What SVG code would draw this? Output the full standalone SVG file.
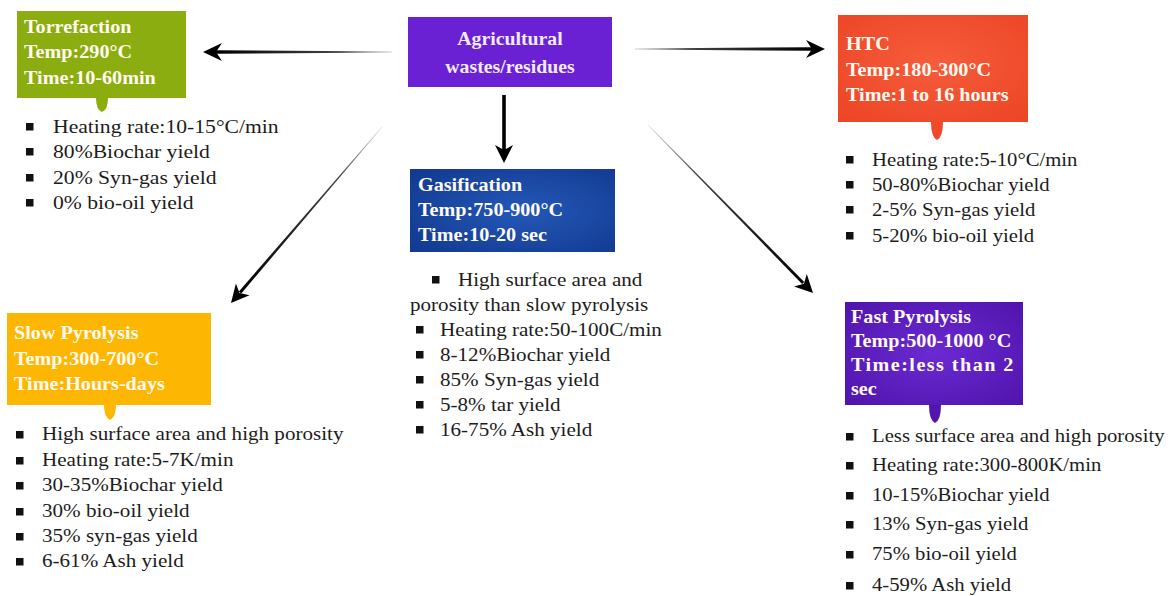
<svg xmlns="http://www.w3.org/2000/svg" width="1168" height="596" viewBox="0 0 1168 596">
<defs>
<style>
.hd{font-family:"Liberation Serif","DejaVu Serif",serif;font-weight:bold;font-size:18px;fill:#fffaf0}
.bl{font-family:"Liberation Serif","DejaVu Serif",serif;font-size:19px;fill:#1c1c1c}
.sq{fill:#111}
.ah{fill:#000}
</style>
<linearGradient id="gL" gradientUnits="userSpaceOnUse" x1="392" y1="52" x2="216" y2="52"><stop offset="0" stop-color="#d0d0d0"/><stop offset="0.3" stop-color="#444"/><stop offset="1" stop-color="#000"/></linearGradient>
<linearGradient id="gR" gradientUnits="userSpaceOnUse" x1="635" y1="49" x2="812" y2="49"><stop offset="0" stop-color="#d0d0d0"/><stop offset="0.3" stop-color="#444"/><stop offset="1" stop-color="#000"/></linearGradient>
<linearGradient id="gDL" gradientUnits="userSpaceOnUse" x1="382" y1="127" x2="240" y2="292"><stop offset="0" stop-color="#e0e0e0"/><stop offset="0.3" stop-color="#444"/><stop offset="1" stop-color="#000"/></linearGradient>
<linearGradient id="gDR" gradientUnits="userSpaceOnUse" x1="648" y1="125" x2="803" y2="283"><stop offset="0" stop-color="#e0e0e0"/><stop offset="0.3" stop-color="#444"/><stop offset="1" stop-color="#000"/></linearGradient>
<radialGradient id="gBlue" cx="0.55" cy="0.5" r="0.7"><stop offset="0" stop-color="#2458b8"/><stop offset="1" stop-color="#123a90"/></radialGradient>
<radialGradient id="gRed" cx="0.5" cy="0.45" r="0.7"><stop offset="0" stop-color="#f65c3b"/><stop offset="1" stop-color="#ec4626"/></radialGradient>
<radialGradient id="gPur" cx="0.5" cy="0.5" r="0.7"><stop offset="0" stop-color="#6a2ad2"/><stop offset="1" stop-color="#5014ac"/></radialGradient>
</defs>
<rect width="1168" height="596" fill="#ffffff"/>

<g id="connectors">
<polygon points="392,51.6 392,52.4 216,53.8 216,50.2" fill="url(#gL)"/>
<polygon class="ah" points="203,52 222,43 216,52 222,61"/>
<polygon points="635,48.6 635,49.4 812,50.8 812,47.2" fill="url(#gR)"/>
<polygon class="ah" points="825,49 806,40 812,49 806,58"/>
<rect x="502.2" y="95" width="3.6" height="56" fill="#000"/>
<polygon class="ah" points="504,163 495,145 504,150 513,145"/>
<polygon points="382.2,127.2 381.8,126.8 238.9,291.4 241.3,293.4" fill="url(#gDL)"/>
<polygon class="ah" points="231,303 235.9,283.4 239.5,293.1 249.5,295.2"/>
<polygon points="647.8,125.2 648.2,124.8 804.3,281.9 802.1,284.1" fill="url(#gDR)"/>
<polygon class="ah" points="813,293 806.8,273.9 803.9,283.7 794,286.5"/>
</g>

<g id="agri">
<rect x="408" y="17" width="204" height="70" fill="#6a21d4"/>
<g transform="translate(510,0) scale(1.1,1)"><text class="hd" x="0" y="45" text-anchor="middle" style="fill:#f1eaff">Agricultural</text><text class="hd" x="0" y="73" text-anchor="middle" style="fill:#f1eaff">wastes/residues</text></g>
</g>

<g id="torrefaction">
<rect x="17" y="11" width="169" height="87" fill="#8cad0f"/>
<path d="M96,98 L108,98 Q108,110 102,112 Q96,110 96,98 Z" fill="#8cad0f"/>
<g transform="translate(24,0) scale(1.12,1)"><text class="hd" x="0" y="33">Torrefaction</text><text class="hd" x="0" y="58">Temp:290°C</text><text class="hd" x="0" y="84">Time:10-60min</text></g>
<rect class="sq" x="26" y="123" width="7.5" height="7.5"/><rect class="sq" x="26" y="148" width="7.5" height="7.5"/><rect class="sq" x="26" y="174" width="7.5" height="7.5"/><rect class="sq" x="26" y="199" width="7.5" height="7.5"/>
<g transform="translate(53,0) scale(1.14,1)"><text class="bl" x="0" y="133">Heating rate:10-15°C/min</text><text class="bl" x="0" y="158">80%Biochar yield</text><text class="bl" x="0" y="184">20% Syn-gas yield</text><text class="bl" x="0" y="209">0% bio-oil yield</text></g>
</g>

<g id="htc">
<rect x="838" y="15" width="190" height="107" fill="url(#gRed)"/>
<path d="M931,122 L943,122 Q943,137 937,140 Q931,137 931,122 Z" fill="#ee4a2a"/>
<g transform="translate(846,0) scale(1.12,1)"><text class="hd" x="0" y="50">HTC</text><text class="hd" x="0" y="76">Temp:180-300°C</text><text class="hd" x="0" y="101">Time:1 to 16 hours</text></g>
<rect class="sq" x="846" y="156" width="7.5" height="7.5"/><rect class="sq" x="846" y="181" width="7.5" height="7.5"/><rect class="sq" x="846" y="206" width="7.5" height="7.5"/><rect class="sq" x="846" y="232" width="7.5" height="7.5"/>
<g transform="translate(872,0) scale(1.09,1)"><text class="bl" x="0" y="166">Heating rate:5-10°C/min</text><text class="bl" x="0" y="191">50-80%Biochar yield</text><text class="bl" x="0" y="216">2-5% Syn-gas yield</text><text class="bl" x="0" y="242">5-20% bio-oil yield</text></g>
</g>

<g id="gasification">
<rect x="410" y="169" width="205" height="83" fill="url(#gBlue)"/>
<g transform="translate(418,0) scale(1.12,1)"><text class="hd" x="0" y="191">Gasification</text><text class="hd" x="0" y="216">Temp:750-900°C</text><text class="hd" x="0" y="241">Time:10-20 sec</text></g>
<rect class="sq" x="432" y="276" width="7.5" height="7.5"/>
<rect class="sq" x="416" y="326" width="7.5" height="7.5"/><rect class="sq" x="416" y="351" width="7.5" height="7.5"/><rect class="sq" x="416" y="376" width="7.5" height="7.5"/><rect class="sq" x="416" y="401" width="7.5" height="7.5"/><rect class="sq" x="416" y="426" width="7.5" height="7.5"/>
<g transform="translate(458,0) scale(1.11,1)"><text class="bl" x="0" y="286">High surface area and</text></g>
<g transform="translate(410,0) scale(1.11,1)"><text class="bl" x="0" y="311">porosity than slow pyrolysis</text></g>
<g transform="translate(440,0) scale(1.11,1)"><text class="bl" x="0" y="336">Heating rate:50-100C/min</text><text class="bl" x="0" y="361">8-12%Biochar yield</text><text class="bl" x="0" y="386">85% Syn-gas yield</text><text class="bl" x="0" y="411">5-8% tar yield</text><text class="bl" x="0" y="436">16-75% Ash yield</text></g>
</g>

<g id="slow">
<rect x="7" y="313" width="204" height="92" fill="#fdb703"/>
<path d="M104,405 L116,405 Q116,417 110,420 Q104,417 104,405 Z" fill="#fdb703"/>
<g transform="translate(14,0) scale(1.12,1)"><text class="hd" x="0" y="339">Slow Pyrolysis</text><text class="hd" x="0" y="365">Temp:300-700°C</text><text class="hd" x="0" y="390">Time:Hours-days</text></g>
<rect class="sq" x="16" y="431" width="7.5" height="7.5"/><rect class="sq" x="16" y="457" width="7.5" height="7.5"/><rect class="sq" x="16" y="482" width="7.5" height="7.5"/><rect class="sq" x="16" y="508" width="7.5" height="7.5"/><rect class="sq" x="16" y="533" width="7.5" height="7.5"/><rect class="sq" x="16" y="558" width="7.5" height="7.5"/>
<g transform="translate(42,0) scale(1.11,1)"><text class="bl" x="0" y="440">High surface area and high porosity</text><text class="bl" x="0" y="466">Heating rate:5-7K/min</text><text class="bl" x="0" y="491">30-35%Biochar yield</text><text class="bl" x="0" y="517">30% bio-oil yield</text><text class="bl" x="0" y="542">35% syn-gas yield</text><text class="bl" x="0" y="567">6-61% Ash yield</text></g>
</g>

<g id="fast">
<rect x="845" y="302" width="178" height="103" fill="url(#gPur)"/>
<path d="M929,405 L941,405 Q941,420 935,423 Q929,420 929,405 Z" fill="#5216ae"/>
<g transform="translate(851,0) scale(1.12,1)"><text class="hd" x="0" y="323">Fast Pyrolysis</text><text class="hd" x="0" y="347">Temp:500-1000 °C</text><text class="hd" x="0" y="371" textLength="145" lengthAdjust="spacing">Time:less than 2</text><text class="hd" x="0" y="395">sec</text></g>
<rect class="sq" x="846" y="433" width="7.5" height="7.5"/><rect class="sq" x="846" y="462" width="7.5" height="7.5"/><rect class="sq" x="846" y="492" width="7.5" height="7.5"/><rect class="sq" x="846" y="521" width="7.5" height="7.5"/><rect class="sq" x="846" y="551" width="7.5" height="7.5"/><rect class="sq" x="846" y="582" width="7.5" height="7.5"/>
<g transform="translate(872,0) scale(1.09,1)"><text class="bl" x="0" y="442">Less surface area and high porosity</text><text class="bl" x="0" y="471">Heating rate:300-800K/min</text><text class="bl" x="0" y="501">10-15%Biochar yield</text><text class="bl" x="0" y="530">13% Syn-gas yield</text><text class="bl" x="0" y="560">75% bio-oil yield</text><text class="bl" x="0" y="591">4-59% Ash yield</text></g>
</g>
</svg>
